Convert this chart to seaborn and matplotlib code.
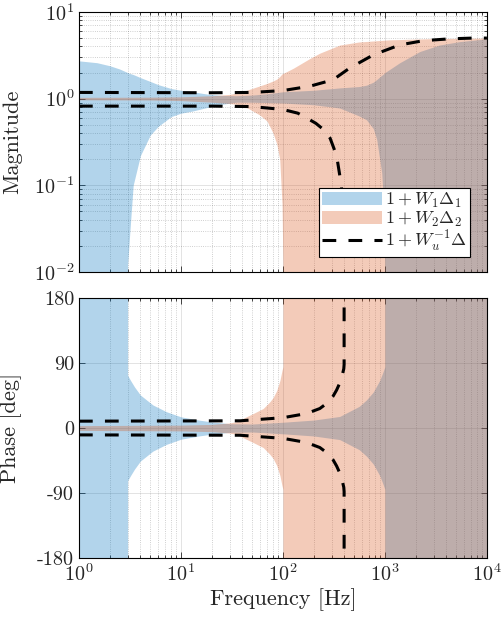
import numpy as np
import matplotlib
matplotlib.use('Agg')
import matplotlib.pyplot as plt
import seaborn as sns

# --- magnitude, band 1 (1 + W1 Delta1)
freq_w1_mag = [1, 1.5, 2, 2.5, 3, 3, 3.16, 3.4, 4, 5, 6, 8, 10, 13, 18, 25, 35, 50, 70, 100,
               200, 360, 560, 660, 770, 830, 930, 980, 1000, 1000, 1400, 2200, 3400, 5400, 10000]
w1_upper = [2.73, 2.6, 2.4, 2.2, 2.0, 2.0, 1.95, 1.9, 1.75, 1.58, 1.45, 1.31, 1.25, 1.2, 1.13, 1.09, 1.08, 1.1, 1.14, 1.2,
            1.25, 1.33, 1.38, 1.43, 1.55, 1.66, 1.86, 1.95, 2.0, 2.0, 2.6, 3.5, 4.15, 4.55, 4.9]
w1_lower = [1e-4, 1e-4, 1e-4, 1e-4, 1e-4, 0.012, 0.03, 0.1, 0.22, 0.38, 0.48, 0.62, 0.68, 0.72, 0.79, 0.86, 0.91, 0.91, 0.9, 0.89,
            0.85, 0.78, 0.63, 0.57, 0.45, 0.34, 0.14, 0.05, 0.01, 1e-4, 1e-4, 1e-4, 1e-4, 1e-4, 1e-4]

# --- magnitude, band 2 (1 + W2 Delta2)
freq_w2_mag = [1, 5, 10, 20, 30, 38, 45, 59, 70, 80, 87, 93, 98, 100, 100, 127, 183, 230, 360, 550, 1100, 3000, 10000]
w2_upper = [1.035, 1.04, 1.05, 1.08, 1.12, 1.18, 1.26, 1.4, 1.5, 1.6, 1.68, 1.8, 1.93, 1.95, 1.95, 2.25, 2.9, 3.35, 4.15, 4.5, 4.77, 4.93, 5.0]
w2_lower = [0.97, 0.965, 0.95, 0.91, 0.88, 0.85, 0.78, 0.65, 0.55, 0.4, 0.3, 0.2, 0.06, 0.012, 1e-4, 1e-4, 1e-4, 1e-4, 1e-4, 1e-4, 1e-4, 1e-4, 1e-4]

# --- magnitude, 1 + Wu^-1 Delta (dashed)
freq_wu_hi = [1, 20, 50, 100, 183, 310, 450, 770, 1400, 2400, 4300, 7300, 10000]
wu_upper = [1.18, 1.17, 1.18, 1.24, 1.39, 1.65, 2.25, 3.2, 4.17, 4.67, 4.9, 5.0, 5.0]
freq_wu_lo = [1, 20, 50, 100, 140, 170, 210, 250, 290, 336, 374, 390, 398, 400]
wu_lower = [0.82, 0.82, 0.81, 0.75, 0.68, 0.6, 0.52, 0.44, 0.35, 0.22, 0.1, 0.04, 0.02, 0.013]

# --- phase half widths [deg]
freq_w1_pha = [1, 3, 3, 3.2, 3.5, 4, 5.3, 7.2, 10, 15, 20, 30, 50, 100, 200, 360, 560, 660, 770, 890, 960, 1000, 1000, 10000]
w1_phase = [180, 180, 73, 66, 57, 45.7, 32, 22.6, 15.5, 11, 8.5, 6, 5.5, 8, 11, 16, 30, 39, 50, 66, 78, 85, 180, 180]
freq_w2_pha = [1, 10, 20, 30, 35, 44, 51, 64, 74, 80, 87, 93.5, 98, 100, 100, 10000]
w2_phase = [3.3, 4, 5, 7, 8.8, 15.7, 20, 27, 36, 42, 52, 66, 80, 85, 180, 180]
freq_wu_pha = [1, 38, 100, 170, 230, 268, 310, 336, 360, 380, 395, 398, 398]
wu_phase = [9.5, 10, 14.3, 20, 27, 34, 44, 52.6, 62, 72, 82, 88, 180]

labels = [r'$1 + W_1 \Delta_1$', r'$1 + W_2 \Delta_2$', r'$1 + W_u^{-1} \Delta$']
c1 = (0, 0.447, 0.741)
c2 = (0.85, 0.325, 0.098)
dash = (0, (4.5, 4.0))

sns.set_style('ticks')
plt.rcParams['font.family'] = ['cmr10']
plt.rcParams['mathtext.fontset'] = 'cm'
plt.rcParams['axes.formatter.use_mathtext'] = True
plt.rcParams['axes.unicode_minus'] = False

fig = plt.figure(figsize=(5.03, 6.21), dpi=100)
ax1 = fig.add_axes([0.157, 0.562, 0.811, 0.4187])
ax2 = fig.add_axes([0.157, 0.1014, 0.811, 0.4187])

# magnitude
f1 = ax1.fill_between(freq_w1_mag, w1_lower, w1_upper, color=c1, alpha=0.3, lw=0, label=labels[0])
f2 = ax1.fill_between(freq_w2_mag, w2_lower, w2_upper, color=c2, alpha=0.3, lw=0, label=labels[1])
sns.lineplot(x=freq_wu_hi, y=wu_upper, ax=ax1, color='k', lw=2.2, linestyle=dash,
             estimator=None, sort=False, label=labels[2])
sns.lineplot(x=freq_wu_lo, y=wu_lower, ax=ax1, color='k', lw=2.2, linestyle=dash,
             estimator=None, sort=False)
ax1.set_xscale('log')
ax1.set_yscale('log')
ax1.set_xlim(1, 1e4)
ax1.set_ylim(1e-2, 1e1)
ax1.set_ylabel('Magnitude', fontsize=16)
ax1.tick_params(labelbottom=False)

handles = [f1, f2, ax1.get_lines()[0]]
leg = ax1.legend(handles, labels, loc='lower right', bbox_to_anchor=(0.958, 0.059), borderaxespad=0,
                 fontsize=13, handlelength=3.3, labelspacing=0.0, handletextpad=0.2,
                 fancybox=False, framealpha=1, edgecolor='k', borderpad=0.15)
leg.get_frame().set_linewidth(0.8)

# phase
ax2.fill_between(freq_w1_pha, [-v for v in w1_phase], w1_phase, color=c1, alpha=0.3, lw=0)
ax2.fill_between(freq_w2_pha, [-v for v in w2_phase], w2_phase, color=c2, alpha=0.3, lw=0)
sns.lineplot(x=freq_wu_pha, y=wu_phase, ax=ax2, color='k', lw=2.2, linestyle=dash,
             estimator=None, sort=False)
sns.lineplot(x=freq_wu_pha, y=[-v for v in wu_phase], ax=ax2, color='k', lw=2.2, linestyle=dash,
             estimator=None, sort=False)
ax2.set_xscale('log')
ax2.set_xlim(1, 1e4)
ax2.set_ylim(-180, 180)
ax2.set_yticks([-180, -90, 0, 90, 180])
ax2.set_yticklabels(['-180', '-90', '0', '90', '180'])
ax2.set_ylabel('Phase [deg]', fontsize=16)
ax2.set_xlabel('Frequency [Hz]', fontsize=16, labelpad=3)

for ax in (ax1, ax2):
    ax.grid(which='major', color='k', alpha=0.13, lw=0.6)
    ax.grid(which='minor', color='k', alpha=0.25, lw=0.6, ls=':')
    ax.tick_params(which='both', direction='in', top=True, right=True, labelsize=14.5, width=0.6)
    ax.tick_params(which='major', length=4)
    ax.tick_params(which='minor', length=2)
    for s in ax.spines.values():
        s.set_linewidth(0.8)
        s.set_color('k')
    ax.yaxis.set_label_coords(-0.14, 0.5)
ax2.yaxis.set_minor_locator(matplotlib.ticker.NullLocator())

plt.savefig('out.png', dpi=100)
